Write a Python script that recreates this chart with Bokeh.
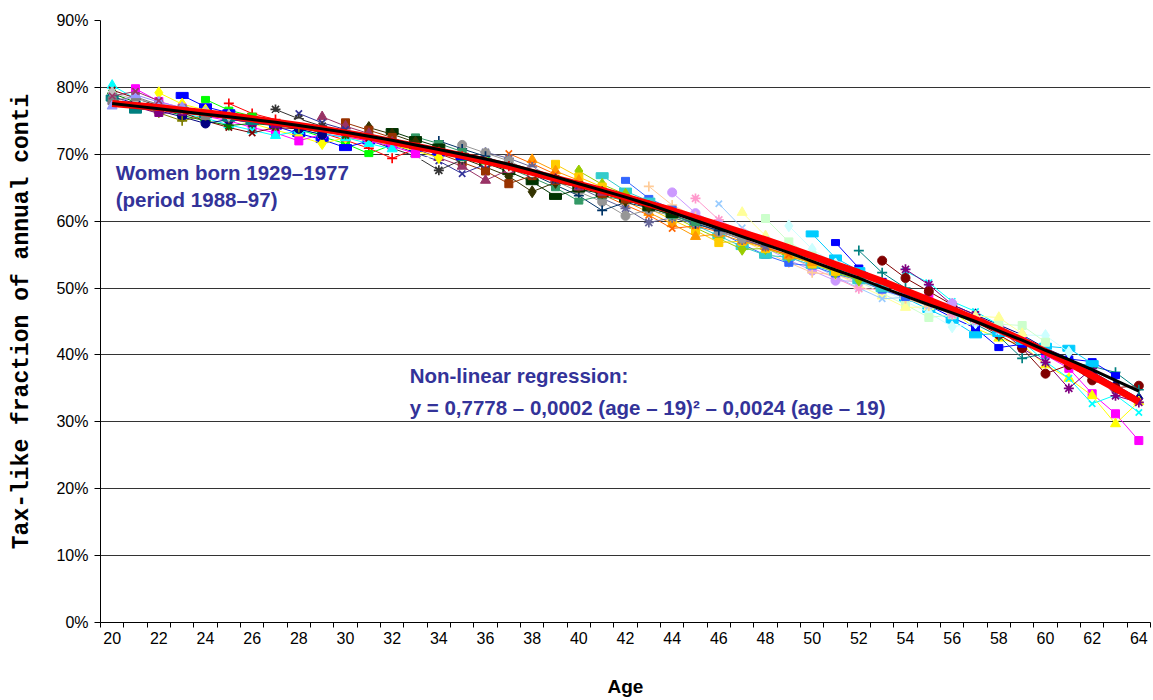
from bokeh.plotting import figure
from bokeh.models import Range1d, FixedTicker, NumeralTickFormatter, Label
from bokeh.embed import file_html
from bokeh.resources import INLINE

# ---------------- data (percent) ----------------
ages = [20, 21, 22, 23, 24, 25, 26, 27, 28, 29, 30, 31, 32, 33, 34, 35, 36, 37, 38, 39, 40, 41,
        42, 43, 44, 45, 46, 47, 48, 49, 50, 51, 52, 53, 54, 55, 56, 57, 58, 59, 60, 61, 62, 63, 64]
tick_ages = [20, 22, 24, 26, 28, 30, 32, 34, 36, 38, 40, 42, 44, 46, 48, 50, 52, 54, 56, 58, 60, 62, 64]
y_ticks = [0.0, 0.1, 0.2, 0.3, 0.4, 0.5, 0.6, 0.7, 0.8, 0.9]

regression_fit = [77.6, 77.3, 77.0, 76.6, 76.2, 75.8, 75.3, 74.8, 74.3, 73.8, 73.2, 72.6, 71.9, 71.2, 70.5,
                  69.8, 69.0, 68.2, 67.3, 66.4, 65.5, 64.6, 63.6, 62.6, 61.6, 60.5, 59.4, 58.3, 57.2, 56.0,
                  54.8, 53.5, 52.3, 51.0, 49.6, 48.2, 46.8, 45.3, 43.8, 42.2, 40.5, 38.8, 36.9, 35.0, 33.0]
cohort_average = [77.6, 77.2, 76.8, 76.4, 76.0, 75.6, 75.2, 74.8, 74.3, 73.8, 73.3, 72.7, 72.1, 71.4, 70.7,
                  70.0, 69.3, 68.5, 67.6, 66.6, 65.6, 64.6, 63.6, 62.5, 61.3, 60.1, 58.9, 57.7, 56.5, 55.3,
                  54.0, 52.7, 51.5, 50.1, 48.8, 47.5, 46.3, 45.0, 43.6, 42.2, 40.7, 39.3, 37.8, 36.2, 34.6]

# first age at which each cohort series is shown
first_age = [56, 55, 55, 54, 54, 53, 52, 51, 50, 49, 48, 47, 46, 45, 44, 43, 42, 41, 40, 39, 38, 37, 36, 35,
             34, 33, 32, 31, 30, 29, 28, 27, 26, 25, 24, 23, 22, 21, 20, 20, 20, 20, 20, 20, 20, 20, 20, 20, 20]

c1929 = [47.5, 46.0, 44.5, 43.0, 41.0, 39.5, 37.5, 35.5, 33.5]
c1930 = [48.5, 47.0, 45.5, 44.0, 42.0, 40.0, 38.0, 34.2, 31.2, 27.2]
c1931 = [47.0, 46.5, 44.0, 42.5, 41.5, 38.5, 36.5, 33.9, 29.7, 33.0]
c1932 = [52.5, 50.8, 48.0, 46.5, 44.5, 42.0, 39.0, 36.5, 32.7, 34.0, 31.4]
c1933 = [52.8, 50.5, 47.5, 46.0, 44.0, 41.0, 38.9, 35.0, 38.0, 33.9, 32.9]
c1934 = [54.1, 51.5, 49.5, 47.5, 45.0, 43.0, 41.0, 37.2, 38.5, 36.2, 35.1, 35.4]
c1935 = [55.6, 52.3, 50.0, 48.0, 46.5, 44.6, 42.8, 39.5, 40.2, 39.0, 38.3, 37.4, 34.8]
c1936 = [56.8, 53.0, 51.0, 49.0, 47.4, 45.6, 44.0, 41.1, 41.6, 40.5, 39.4, 39.0, 36.9]
c1937 = [58.1, 54.5, 52.6, 50.3, 48.5, 46.8, 45.2, 43.0, 43.2, 42.0, 41.3, 41.0, 38.7]
c1938 = [59.3, 55.8, 53.6, 51.6, 49.8, 48.0, 46.3, 44.2, 44.8, 43.9, 43.0, 42.9, 40.4]
c1939 = [60.4, 56.9, 54.8, 52.8, 51.0, 49.2, 47.5, 45.6, 46.0, 45.2, 44.6, 44.4, 41.9]
c1940 = [61.3, 57.8, 55.9, 53.8, 52.2, 50.4, 48.8, 47.1, 47.2, 46.4, 45.8, 45.6, 43.2]
c1941 = [62.6, 59.0, 57.2, 55.2, 53.5, 51.7, 50.0, 48.4, 48.6, 47.3, 46.2, 44.8, 43.5]
c1942 = [63.4, 60.2, 58.3, 56.3, 54.8, 53.0, 51.5, 49.9, 49.8, 48.6, 47.6, 46.0, 45.2]
c1943 = [64.3, 61.2, 59.5, 57.5, 56.0, 54.2, 52.6, 51.1, 51.0, 49.8, 48.9, 47.9, 47.7]
c1944 = [65.2, 62.4, 60.7, 58.6, 57.2, 55.4, 53.8, 52.3, 52.0, 50.9, 50.0, 48.4, 47.3]
c1945 = [66.1, 63.4, 61.8, 59.8, 58.4, 56.6, 54.9, 53.7, 53.3, 52.1, 51.2, 49.7, 48.6]
c1946 = [66.8, 64.5, 63.0, 61.0, 59.4, 57.8, 56.2, 54.9, 54.6, 53.4, 52.4, 51.1, 49.9]
c1947 = [67.5, 65.5, 64.0, 62.2, 60.8, 59.0, 57.4, 55.8, 55.9, 54.7, 53.8, 52.3, 51.2]
c1948 = [68.5, 66.6, 65.1, 63.3, 61.9, 60.2, 58.6, 56.8, 57.0, 55.9, 55.0, 53.6, 52.5]
c1949 = [69.2, 67.5, 66.1, 64.2, 63.0, 61.3, 59.6, 57.7, 58.1, 57.0, 56.2, 54.8, 53.8]
c1950 = [70.1, 68.6, 67.0, 65.3, 64.0, 62.4, 60.9, 58.9, 59.3, 58.4, 57.4, 56.0, 55.0]
c1951 = [70.3, 69.4, 68.1, 66.3, 65.0, 63.4, 61.9, 59.8, 60.5, 59.6, 58.6, 57.2, 56.2]
c1952 = [71.4, 70.2, 69.0, 67.3, 66.0, 64.4, 62.9, 60.8, 61.7, 60.8, 59.8, 58.4, 57.4]
c1953 = [72.0, 70.8, 69.7, 68.2, 67.0, 65.4, 63.8, 61.6, 62.8, 62.0, 61.0, 59.6, 58.6]
c1954 = [72.6, 71.6, 70.4, 69.0, 67.9, 66.5, 65.0, 63.0, 63.8, 63.1, 62.2, 60.8, 59.8]
c1955 = [73.4, 72.2, 71.1, 69.7, 68.7, 67.4, 65.9, 63.7, 64.8, 64.1, 63.3, 62.0, 61.0]
c1956 = [74.0, 73.0, 71.8, 70.4, 69.4, 68.1, 66.7, 64.4, 65.8, 65.1, 64.3, 63.1, 62.2]
c1957 = [74.7, 73.6, 72.5, 71.1, 70.1, 68.8, 67.5, 65.6, 66.8, 66.1, 65.3, 64.1, 63.3]
c1958 = [75.6, 74.2, 73.1, 71.8, 70.8, 69.5, 68.2, 66.1, 67.7, 67.1, 66.3, 65.1, 64.3]
c1959 = [76.1, 74.7, 73.7, 72.4, 71.5, 70.2, 69.0, 67.1, 68.5, 68.0, 67.3, 66.1, 65.3]
c1960 = [76.7, 75.3, 74.2, 73.0, 72.1, 70.9, 69.7, 67.6, 69.2, 68.8, 68.2, 67.1, 66.3]
c1961 = [76.8, 75.6, 74.6, 73.4, 72.6, 71.5, 70.5, 69.0, 70.0, 69.6, 68.9, 68.0, 67.3]
c1962 = [77.6, 76.1, 75.2, 74.0, 73.2, 72.1, 70.9, 69.4, 70.8, 70.3, 69.7, 68.8, 68.2]
c1963 = [78.2, 76.6, 75.7, 74.5, 73.7, 72.6, 71.6, 70.1, 71.4, 70.8, 70.3, 69.5, 69.0]
c1964 = [78.8, 77.1, 76.2, 74.9, 74.2, 73.1, 72.2, 71.0, 72.0, 71.5, 70.9, 70.2, 69.6]
c1965 = [79.2, 77.5, 76.6, 75.3, 74.6, 73.6, 72.7, 71.6, 72.5, 72.0, 71.4, 70.5, 69.5]
c1966 = [79.8, 77.9, 76.9, 75.7, 75.0, 74.0, 73.2, 72.0, 73.0, 72.6, 72.0, 71.2, 70.1]
c1967 = [80.3, 78.3, 77.3, 76.1, 75.4, 74.4, 73.6, 72.8, 73.5, 73.1, 72.5, 71.6, 70.8]
c1968 = [79.6, 78.4, 77.2, 76.2, 75.0, 74.0, 73.2, 74.0, 73.8, 73.5, 72.8, 72.4]
c1969 = [79.1, 77.8, 76.8, 75.8, 75.0, 74.3, 74.6, 74.3, 74.0, 73.3, 73.0]
c1970 = [78.6, 77.6, 76.5, 75.6, 74.6, 75.2, 74.8, 74.5, 73.8, 72.9]
c1971 = [78.0, 77.2, 76.2, 75.0, 75.8, 75.4, 74.9, 74.3, 74.0]
c1972 = [77.9, 77.1, 76.1, 76.3, 75.8, 75.3, 74.7, 74.4]
c1973 = [78.4, 76.6, 77.0, 76.6, 75.9, 75.4, 74.9]
c1974 = [79.2, 78.2, 77.6, 76.9, 76.3, 75.8]
c1975 = [78.0, 78.6, 77.4, 76.8, 75.8]
c1976 = [77.2, 78.9, 77.8, 77.0]
c1977 = [78.7, 79.4, 78.0]

cohorts = [c1929, c1930, c1931, c1932, c1933, c1934, c1935, c1936, c1937, c1938, c1939, c1940,
           c1941, c1942, c1943, c1944, c1945, c1946, c1947, c1948, c1949, c1950, c1951, c1952,
           c1953, c1954, c1955, c1956, c1957, c1958, c1959, c1960, c1961, c1962, c1963, c1964,
           c1965, c1966, c1967, c1968, c1969, c1970, c1971, c1972, c1973, c1974, c1975, c1976, c1977]

# ---------------- styles ----------------
series_colors = ["#000080", "#FF00FF", "#FFFF00", "#00FFFF", "#800080", "#800000", "#008080", "#0000FF",
                 "#00CCFF", "#CCFFFF", "#CCFFCC", "#FFFF99", "#99CCFF", "#FF99CC", "#CC99FF", "#FFCC99",
                 "#3366FF", "#33CCCC", "#99CC00", "#FFCC00", "#FF9900", "#FF6600", "#666699", "#969696",
                 "#003366", "#339966", "#003300", "#333300", "#993300", "#993366", "#333399", "#333333",
                 "#FFFFFF", "#FF0000", "#00FF00", "#0000FF", "#FFFF00", "#FF00FF", "#00FFFF", "#800000",
                 "#008000", "#000080", "#808000", "#800080", "#008080", "#C0C0C0", "#808080", "#9999FF",
                 "#993366"]
marker_cycle = ["diamond", "square", "triangle", "x", "asterisk", "circle", "cross", "dot", "dash"]
marker_size = {"diamond": 12, "square": 8, "triangle": 10, "x": 9, "asterisk": 10, "circle": 9, "cross": 10}
line_markers = {"x", "asterisk", "cross"}

TXT = "Liberation Sans"
NAVY = "#333399"

p = figure(width=1153, height=700, output_backend="svg", toolbar_location=None,
           x_range=Range1d(19.5, 64.5), y_range=Range1d(0, 0.9),
           min_border_left=100, min_border_right=3, min_border_top=20, min_border_bottom=78,
           background_fill_color="white", border_fill_color="white")
p.outline_line_color = None
p.xgrid.visible = False
p.ygrid.grid_line_color = "#333333"
p.ygrid.grid_line_width = 1

for i, vals in enumerate(cohorts):
    xs = [first_age[i] + k for k in range(len(vals))]
    ys = [v / 100 for v in vals]
    col = series_colors[i]
    p.line(xs, ys, line_color=col, line_width=1)
    shape = marker_cycle[i % len(marker_cycle)]
    if shape == "dot":
        p.rect(xs, ys, width=8, height=6, width_units="screen", height_units="screen",
               fill_color=col, line_color=col)
    elif shape == "dash":
        p.rect(xs, ys, width=12, height=6, width_units="screen", height_units="screen",
               fill_color=col, line_color=col)
    elif shape in line_markers:
        p.scatter(xs, ys, marker=shape, size=marker_size[shape], line_color=col, line_width=1.7)
    else:
        p.scatter(xs, ys, marker=shape, size=marker_size[shape], fill_color=col, line_color=col)

p.line(ages, [v / 100 for v in regression_fit], line_color="#FF0000", line_width=7)
p.line(ages, [v / 100 for v in cohort_average], line_color="#000000", line_width=3)

# x axis
xa = p.xaxis[0]
xa.ticker = FixedTicker(ticks=tick_ages, minor_ticks=[a - 0.5 for a in ages] + [ages[-1] + 0.5])
xa.major_tick_out = 0
xa.major_tick_in = 0
xa.minor_tick_out = 5
xa.minor_tick_in = 0
xa.minor_tick_line_color = "black"
xa.axis_line_color = "black"
xa.major_label_text_font = TXT
xa.major_label_text_font_size = "16px"
xa.major_label_text_color = "black"
xa.major_label_standoff = 4
xa.axis_label = "Age"
xa.axis_label_text_font = TXT
xa.axis_label_text_font_style = "bold"
xa.axis_label_text_font_size = "19px"
xa.axis_label_text_color = "black"
xa.axis_label_standoff = 29

# y axis
ya = p.yaxis[0]
ya.ticker = FixedTicker(ticks=y_ticks)
ya.formatter = NumeralTickFormatter(format="0%")
ya.major_tick_out = 6
ya.major_tick_in = 0
ya.minor_tick_out = 0
ya.axis_line_color = "black"
ya.major_tick_line_color = "black"
ya.major_label_text_font = TXT
ya.major_label_text_font_size = "16px"
ya.major_label_text_color = "black"
ya.major_label_standoff = 6
ya.axis_label = "Tax-like fraction of annual conti"
ya.axis_label_text_font = "Liberation Mono"
ya.axis_label_text_font_style = "bold"
ya.axis_label_text_font_size = "23px"
ya.axis_label_text_color = "black"
ya.axis_label_standoff = 18

# annotations
def note(txt, x, y):
    p.add_layout(Label(x=x, y=y, text=txt, text_font=TXT, text_font_style="bold",
                       text_font_size="20.5px", text_color=NAVY, text_baseline="middle",
                       text_align="left"))

note("Women born 1929\u20131977", 20.15, 0.6726)
note("(period 1988\u201397)", 20.15, 0.632)
note("Non-linear regression:", 32.75, 0.369)
note("y = 0,7778 \u2013 0,0002 (age \u2013 19)\u00b2 \u2013 0,0024 (age \u2013 19)", 32.75, 0.321)

open("out.html", "w").write(file_html(p, INLINE))
